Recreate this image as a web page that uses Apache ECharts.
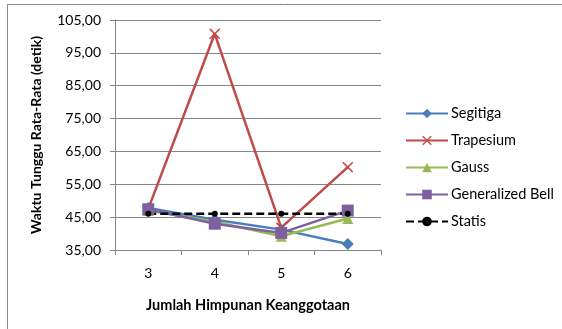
<!DOCTYPE html>
<html>
<head>
<meta charset="utf-8">
<script src="https://cdn.jsdelivr.net/npm/echarts@6/dist/echarts.min.js"></script>
<style>
  html, body { margin: 0; padding: 0; background: #fff; }
  #chart { width: 562px; height: 329px; }
</style>
</head>
<body>
<div id="chart"></div>
<script>
// Waiting time per number of membership functions
const categories = ['3', '4', '5', '6'];
const segitiga = [47.8, 44.2, 41.2, 36.8];
const trapesium = [47.5, 100.8, 41.8, 60.2];
const gauss = [47.0, 43.6, 39.2, 44.6];
const generalizedBell = [47.4, 43.0, 40.2, 47.0];
const statis = [46.0, 46.0, 46.0, 46.0];

const FONT = 'Lato';
const crossPath = 'path://M0,1L1,0L5,4L9,0L10,1L6,5L10,9L9,10L5,6L1,10L0,9L4,5Z';

function lineSeries(name, data, color, symbol, size, extra) {
  return Object.assign({
    name: name,
    type: 'line',
    data: data,
    symbol: symbol,
    symbolSize: size,
    showAllSymbol: true,
    lineStyle: { color: color, width: 2.5 },
    itemStyle: { color: color },
    emphasis: { disabled: true },
    animation: false
  }, extra || {});
}

const chart = echarts.init(document.getElementById('chart'), null, { renderer: 'canvas' });
chart.setOption({
  backgroundColor: '#ffffff',
  textStyle: { fontFamily: FONT },
  grid: { left: 115, top: 20, width: 266, height: 230 },
  graphic: [
    { type: 'line', shape: { x1: 7, y1: 4.5, x2: 562, y2: 4.5 }, style: { stroke: '#8c8c8c', lineWidth: 1 } },
    { type: 'line', shape: { x1: 7.5, y1: 4, x2: 7.5, y2: 329 }, style: { stroke: '#8c8c8c', lineWidth: 1 } }
  ],
  xAxis: {
    type: 'category',
    data: categories,
    boundaryGap: true,
    axisLine: { lineStyle: { color: '#868686', width: 1 } },
    axisTick: { show: true, length: 5, lineStyle: { color: '#868686' } },
    axisLabel: { color: '#000', fontFamily: FONT, fontSize: 14, margin: 16 },
    name: 'Jumlah Himpunan Keanggotaan',
    nameLocation: 'middle',
    nameGap: 48,
    nameTextStyle: { color: '#000', fontFamily: FONT, fontSize: 14.5, fontWeight: 'bold' }
  },
  yAxis: {
    type: 'value',
    min: 35,
    max: 105,
    interval: 10,
    axisLine: { show: true, lineStyle: { color: '#868686', width: 1 } },
    axisTick: { show: true, length: 5, lineStyle: { color: '#868686' } },
    splitLine: { show: true, lineStyle: { color: '#868686', width: 1 } },
    axisLabel: {
      color: '#000', fontFamily: FONT, fontSize: 14, margin: 14,
      formatter: v => v.toFixed(2).replace('.', ',')
    },
    name: 'Waktu Tunggu Rata-Rata (detik)',
    nameLocation: 'middle',
    nameGap: 72,
    nameTextStyle: { color: '#000', fontFamily: FONT, fontSize: 14, fontWeight: 'bold' }
  },
  legend: {
    orient: 'vertical',
    left: 400,
    top: 101,
    itemWidth: 42,
    itemHeight: 12,
    itemGap: 12,
    textStyle: { color: '#000', fontFamily: FONT, fontSize: 14.5, padding: [0, 0, 0, -2] },
    data: ['Segitiga', 'Trapesium', 'Gauss', 'Generalized Bell', 'Statis']
  },
  series: [
    lineSeries('Segitiga', segitiga, '#4a7ebb', 'diamond', 12),
    lineSeries('Trapesium', trapesium, '#be4b48', crossPath, 11),
    lineSeries('Gauss', gauss, '#98b954', 'triangle', 11),
    lineSeries('Generalized Bell', generalizedBell, '#7d60a0', 'rect', 12),
    lineSeries('Statis', statis, '#000000', 'circle', 6, {
      lineStyle: { color: '#000000', width: 2.5, type: [8, 4] }
    })
  ]
});
</script>
</body>
</html>
